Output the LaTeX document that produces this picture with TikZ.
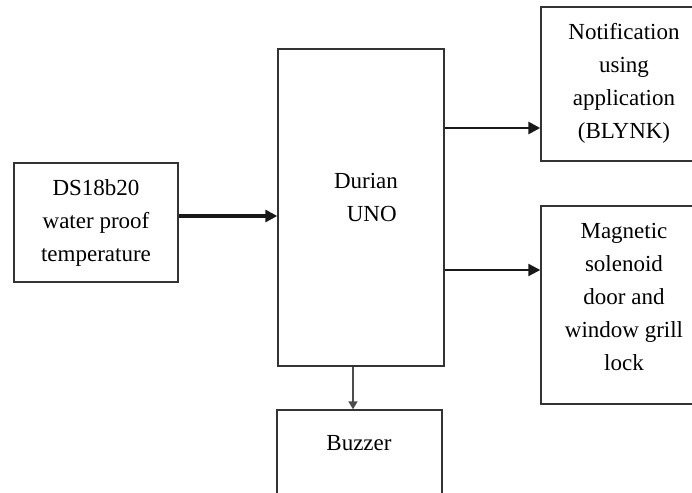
\documentclass[tikz,border=0pt]{standalone}
\usepackage{fontspec}
\setmainfont{Liberation Serif}
\usetikzlibrary{arrows.meta}
\begin{document}
\begin{tikzpicture}[x=1pt,y=-1pt,
  blk/.style={draw=black!80, line width=1.4pt, rectangle, inner sep=0pt},
  txt/.style={align=center, font=\fontsize{23}{33}\selectfont, inner sep=0pt},
  arr/.style={draw=black!90, -{Triangle[length=12pt,width=12pt]}}]
\useasboundingbox (0,0) rectangle (692,492);
\clip (0,0) rectangle (692,492);
\fill[white] (0,0) rectangle (692,492);
% boxes
\node[blk, minimum width=164pt, minimum height=119pt] (ds) at (96,222.5) {};
\node[blk, minimum width=166pt, minimum height=317pt] (uno) at (361,207.5) {};
\node[blk, minimum width=166pt, minimum height=154pt] (notif) at (624,84) {};
\node[blk, minimum width=166pt, minimum height=198pt] (mag) at (624,305) {};
\node[blk, minimum width=165pt, minimum height=120pt] (buzz) at (359.5,470) {};
% texts
\node[txt] (dst) at (96,223) {DS18b20\\water proof\\temperature};
\node[txt] (unot) at (366,197) {Durian\\\ \ UNO};
\node[txt] (notift) at (624,83) {Notification\\using\\application\\(BLYNK)};
\node[txt] (magt) at (624,297) {Magnetic\\solenoid\\door and\\window grill\\lock};
\node[txt] (buzzt) at (359,443) {Buzzer};
% connectors
\draw[arr, line width=3.2pt] (ds.east |- 0,216) -- (uno.west |- 0,216);
\draw[arr, line width=2.8pt] (uno.east |- 0,128) -- (notif.west |- 0,128);
\draw[arr, line width=2.2pt] (uno.east |- 0,270) -- (mag.west |- 0,270);
\draw[draw=black!70, line width=1.7pt, -{Triangle[length=8pt,width=9pt]}] (uno.south -| 353,0) -- (buzz.north -| 353,0);
\end{tikzpicture}
\end{document}
